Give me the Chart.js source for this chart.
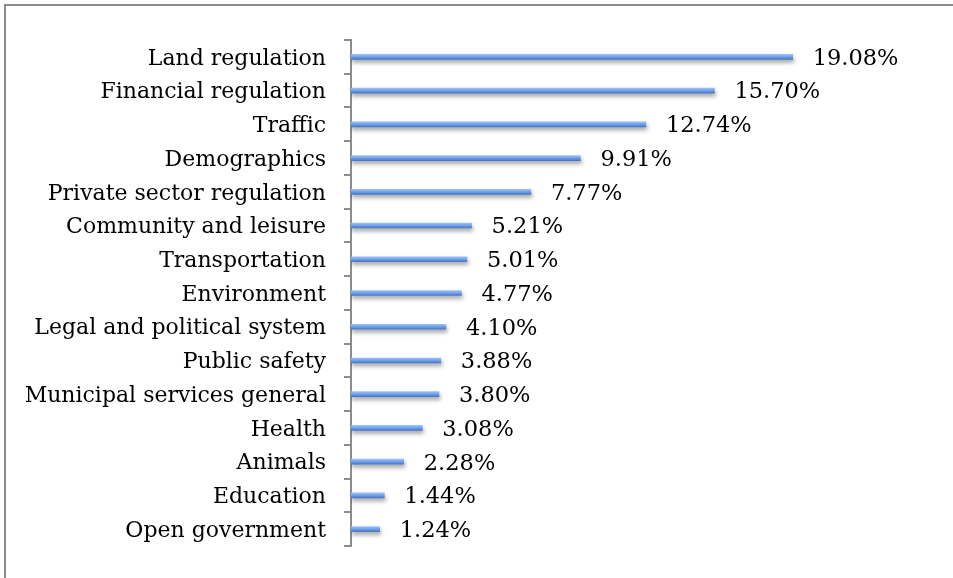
<!DOCTYPE html>
<html>
<head>
<meta charset="utf-8">
<script src="https://cdn.jsdelivr.net/npm/chart.js@4/dist/chart.umd.min.js"></script>
<style>
  html, body { margin: 0; padding: 0; background: #fff; }
  #wrap { position: relative; width: 953px; height: 578px; overflow: hidden; }
  #frame { position: absolute; left: 4px; top: 4px; width: 960px; height: 600px;
           border-left: 2px solid #8c8c8c; border-top: 2px solid #8c8c8c; }
  canvas { position: absolute; left: 0; top: 0; }
</style>
</head>
<body>
<div id="wrap">
  <div id="frame"></div>
  <canvas id="chart" width="953" height="578"></canvas>
</div>
<script>
// topics, top to bottom
const categories = [
  'Land regulation', 'Financial regulation', 'Traffic', 'Demographics',
  'Private sector regulation', 'Community and leisure', 'Transportation',
  'Environment', 'Legal and political system', 'Public safety',
  'Municipal services general', 'Health', 'Animals', 'Education', 'Open government'
];
const shares = [19.08, 15.70, 12.74, 9.91, 7.77, 5.21, 5.01, 4.77, 4.10, 3.88, 3.80, 3.08, 2.28, 1.44, 1.24];
const shareLabels = ['19.08%', '15.70%', '12.74%', '9.91%', '7.77%', '5.21%', '5.01%', '4.77%',
  '4.10%', '3.88%', '3.80%', '3.08%', '2.28%', '1.44%', '1.24%'];

const FONT = '"DejaVu Serif", "Liberation Serif", serif';

// soft drop shadow under the bars
const barShadow = {
  id: 'barShadow',
  beforeDatasetDraw(chart) {
    const ctx = chart.ctx;
    ctx.save();
    ctx.shadowColor = 'rgba(0,0,0,0.35)';
    ctx.shadowOffsetY = 3;
    ctx.shadowOffsetX = 1;
    ctx.shadowBlur = 4;
  },
  afterDatasetDraw(chart) {
    chart.ctx.restore();
  }
};

// value labels right of each bar
const valueLabels = {
  id: 'valueLabels',
  afterDatasetsDraw(chart) {
    const ctx = chart.ctx;
    const meta = chart.getDatasetMeta(0);
    ctx.save();
    ctx.font = '22.5px ' + FONT;
    ctx.fillStyle = '#000';
    ctx.textAlign = 'left';
    ctx.textBaseline = 'middle';
    meta.data.forEach((bar, i) => {
      ctx.fillText(shareLabels[i], bar.x + 20, bar.y + 2);
    });
    ctx.restore();
  }
};

function barFill(context) {
  const chart = context.chart;
  const y = chart.scales.y;
  if (!chart.chartArea || !y) return '#6f9fe8';
  const cy = y.getPixelForValue(context.dataIndex);
  const g = chart.ctx.createLinearGradient(0, cy - 2.5, 0, cy + 2.5);
  g.addColorStop(0, '#9cc0f7');
  g.addColorStop(0.5, '#6fa0ec');
  g.addColorStop(1, '#4577c4');
  return g;
}

new Chart(document.getElementById('chart'), {
  type: 'bar',
  data: {
    labels: categories,
    datasets: [{
      data: shares,
      backgroundColor: barFill,
      borderWidth: 0,
      barThickness: 5
    }]
  },
  options: {
    indexAxis: 'y',
    responsive: false,
    animation: false,
    layout: { padding: { top: 40, bottom: 32, right: 139, left: 0 } },
    plugins: {
      legend: { display: false },
      tooltip: { enabled: false }
    },
    scales: {
      x: {
        display: false,
        min: 0,
        max: 20
      },
      y: {
        afterFit(scale) { scale.width = 351; },
        grid: {
          offset: true,
          drawOnChartArea: false,
          drawTicks: true,
          tickLength: 7,
          color: '#8c8c8c',
          lineWidth: 2
        },
        border: { display: true, color: '#8c8c8c', width: 2 },
        ticks: {
          padding: 18,
          labelOffset: 2,
          color: '#000',
          font: { family: FONT, size: 22 }
        }
      }
    }
  },
  plugins: [barShadow, valueLabels]
});
</script>
</body>
</html>
